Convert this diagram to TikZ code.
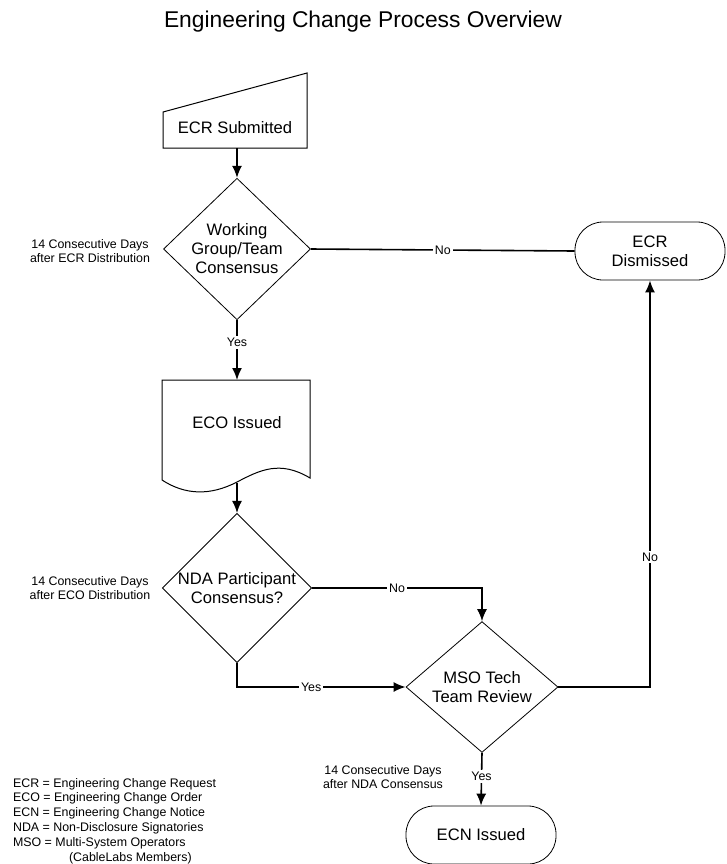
\documentclass[tikz,border=0pt]{standalone}
\usepackage{fontspec}
\setmainfont{Liberation Sans}
\usetikzlibrary{shapes.geometric,arrows.meta}

\begin{document}
\begin{tikzpicture}[x=0.5pt,y=-0.5pt,
    box/.style={draw,font=\fontsize{8.3}{9.5}\selectfont,align=center},
    decision/.style={box,diamond,minimum width=73.5pt,minimum height=56pt,inner sep=0pt},
    terminal/.style={box,rounded corners=14pt,minimum width=75pt,minimum height=29pt},
    note/.style={font=\fontsize{6.2}{7.4}\selectfont,align=center},
    flow/.style={line width=0.8pt,-{Latex[length=6pt,width=5pt]}},
    line/.style={line width=0.8pt}]
    \useasboundingbox (0,0) rectangle (727,864);
    % title
    \node[font=\fontsize{11.4}{13}\selectfont] (title) at (363,22) {Engineering Change Process Overview};

    % manual input shape
    \draw[line width=0.5pt] (163,112) -- (307,73) -- (307,148) -- (163,148) -- cycle;
    \node[font=\fontsize{8.3}{9.5}\selectfont] (ecr) at (235,128) {ECR Submitted};
    \coordinate (ecrB) at (237,148);

    % decisions and terminals
    \node[decision] (wg) at (237,249) {Working\\Group/Team\\Consensus};
    \node[terminal] (dis) at (650,251) {ECR\\Dismissed};
    \node[decision] (nda) at (237,588) {NDA Participant\\Consensus?};
    \node[decision,minimum width=76pt] (mso) at (482,687) {MSO Tech\\Team Review};
    \node[terminal] (ecn) at (481,835) {ECN Issued};

    % document shape
    \draw[line width=0.5pt] (162,380) -- (310,380) -- (310,478)
        .. controls (280,460) and (260,470) .. (237,482)
        .. controls (210,496) and (185,495) .. (162,480) -- cycle;
    \node[font=\fontsize{8.3}{9.5}\selectfont] (eco) at (237,423) {ECO Issued};
    \coordinate (ecoT) at (237,380);
    \coordinate (ecoB) at (237,483);

    % connectors
    \draw[flow] (ecrB) -- (wg.north);
    \draw[line] (wg.east) -- node[fill=white,note,inner sep=1pt] {No} (dis.west);
    \draw[flow] (wg.south) -- node[fill=white,note,pos=0.37,inner sep=1pt] {Yes} (ecoT);
    \draw[flow] (ecoB) -- (nda.north);
    \draw[flow] (nda.east) -- node[fill=white,note,inner sep=1pt] {No} (mso.north |- nda.east) -- (mso.north);
    \draw[flow] (nda.south) |- node[fill=white,note,pos=0.72,inner sep=1pt] {Yes} (mso.west);
    \draw[flow] (mso.east) -| node[fill=white,note,pos=0.66,inner sep=1pt] {No} (dis.south);
    \draw[flow] (mso.south) -- node[fill=white,note,pos=0.45,inner sep=1pt] {Yes} (ecn.north);

    % notes
    \node[note] (n1) at (90,251) {14 Consecutive Days\\after ECR Distribution};
    \node[note] (n2) at (90,588) {14 Consecutive Days\\after ECO Distribution};
    \node[note] (n3) at (383,777) {14 Consecutive Days\\after NDA Consensus};
    \node[note,align=left,anchor=north west] (legend) at (6,771) {ECR = Engineering Change Request\\ECO = Engineering Change Order\\ECN = Engineering Change Notice\\NDA = Non-Disclosure Signatories\\MSO = Multi-System Operators\\\hspace{28pt}(CableLabs Members)};
\end{tikzpicture}
\end{document}
